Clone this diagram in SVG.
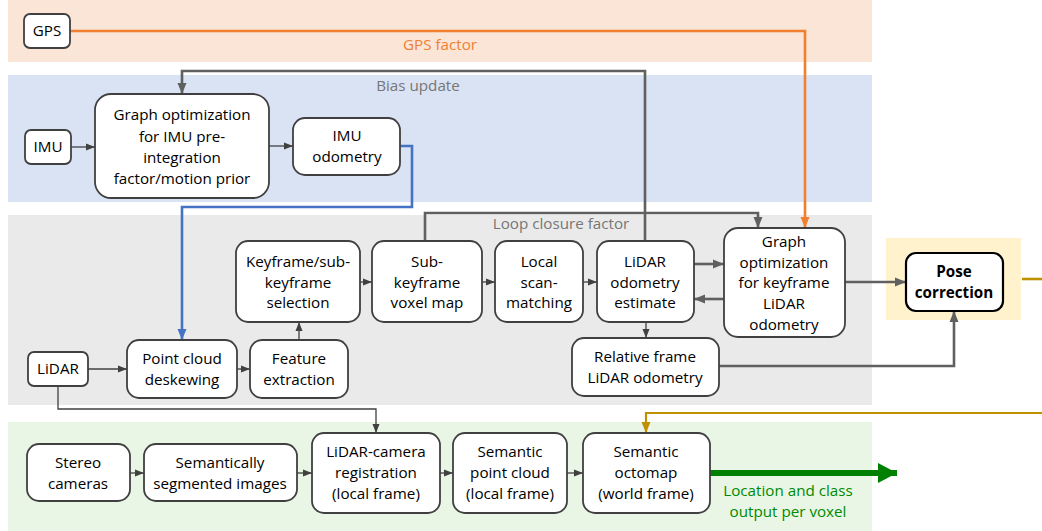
<svg xmlns="http://www.w3.org/2000/svg" width="1042" height="531" viewBox="0 0 1042 531">
<style>
.node rect{fill:#fff;stroke:#404040;stroke-width:1.8}
.node text{font-family:"Open Sans","Noto Sans",sans-serif;font-size:15.2px;fill:#000;text-anchor:middle}
.lbl{font-family:"Open Sans","Noto Sans",sans-serif;font-size:15.2px;text-anchor:middle}
.c{fill:none;stroke-linejoin:miter}
.thin{stroke:#404040;stroke-width:1.3}
.thick{stroke:#606060;stroke-width:2.6}
</style>
<defs>
<marker id="aT" markerUnits="userSpaceOnUse" markerWidth="10" markerHeight="10" viewBox="0 0 10 10" refX="9" refY="5" orient="auto"><path d="M0,1.5 L9,5 L0,8.5 Z" fill="#404040"/></marker>
<marker id="aK" markerUnits="userSpaceOnUse" markerWidth="12" markerHeight="12" viewBox="0 0 12 12" refX="11" refY="6" orient="auto"><path d="M0,1.5 L11,6 L0,10.5 Z" fill="#606060"/></marker>
<marker id="aB" markerUnits="userSpaceOnUse" markerWidth="12" markerHeight="12" viewBox="0 0 12 12" refX="11" refY="6" orient="auto"><path d="M0,1.5 L11,6 L0,10.5 Z" fill="#4472C4"/></marker>
<marker id="aO" markerUnits="userSpaceOnUse" markerWidth="12" markerHeight="12" viewBox="0 0 12 12" refX="11" refY="6" orient="auto"><path d="M0,1.5 L11,6 L0,10.5 Z" fill="#F08030"/></marker>
<marker id="aG" markerUnits="userSpaceOnUse" markerWidth="12" markerHeight="12" viewBox="0 0 12 12" refX="11" refY="6" orient="auto"><path d="M0,1.5 L11,6 L0,10.5 Z" fill="#BF9000"/></marker>
<marker id="aGr" markerUnits="userSpaceOnUse" markerWidth="22" markerHeight="22" viewBox="0 0 22 22" refX="19" refY="11" orient="auto"><path d="M0,1 L19,11 L0,21 Z" fill="#008000"/></marker>
</defs>

<g id="bands">
<rect x="8" y="0" width="864" height="62" fill="#FBE5D6"/>
<rect x="8" y="75" width="864" height="127" fill="#DAE3F3"/>
<rect x="8" y="215" width="864" height="190" fill="#EAEAEA"/>
<rect x="8" y="422" width="864" height="109" fill="#E9F6E5"/>
<rect x="886" y="238" width="135" height="82" fill="#FFF2CC"/>
</g>

<g id="labels">
<text class="lbl" x="440" y="50" fill="#F08030">GPS factor</text>
<text class="lbl" x="418" y="91" fill="#767676">Bias update</text>
<text class="lbl" x="561" y="229" fill="#767676">Loop closure factor</text>
<text class="lbl" x="788" y="496" fill="#008A00">Location and class</text>
<text class="lbl" x="788" y="517" fill="#008A00">output per voxel</text>
</g>

<g id="connectors">
<path class="c" d="M70,31 H805 V228" stroke="#F08030" stroke-width="2.6" marker-end="url(#aO)"/>
<path class="c thick" d="M645,242 V71 H182 V94" marker-end="url(#aK)"/>
<path class="c" d="M400,146 H412 V207 H182 V340" stroke="#4472C4" stroke-width="2.6" marker-end="url(#aB)"/>
<path class="c thick" d="M425,241 V213 H758 V228" marker-end="url(#aK)"/>
<path class="c thin" d="M71,147 H95" marker-end="url(#aT)"/>
<path class="c thin" d="M269,146 H293" marker-end="url(#aT)"/>
<path class="c thin" d="M88,369 H127" marker-end="url(#aT)"/>
<path class="c thin" d="M237,369 H250" marker-end="url(#aT)"/>
<path class="c thin" d="M299,340 V322" marker-end="url(#aT)"/>
<path class="c thin" d="M360,282 H372" marker-end="url(#aT)"/>
<path class="c thin" d="M482,282 H495" marker-end="url(#aT)"/>
<path class="c thin" d="M583,282 H597" marker-end="url(#aT)"/>
<path class="c thick" d="M694,264 H724" marker-end="url(#aK)"/>
<path class="c thick" d="M724,299 H694" marker-end="url(#aK)"/>
<path class="c thin" d="M646,322 V338" marker-end="url(#aT)"/>
<path class="c thick" d="M845,282 H906" marker-end="url(#aK)"/>
<path class="c thick" d="M719,366 H954 V311" marker-end="url(#aK)"/>
<path class="c" d="M1022,279 H1042" stroke="#BF9000" stroke-width="2.6"/>
<path class="c" d="M1042,413 H646 V433" stroke="#BF9000" stroke-width="2.2" marker-end="url(#aG)"/>
<path class="c thin" d="M58,386 V409 H376 V433" marker-end="url(#aT)"/>
<path class="c thin" d="M130,473 H144" marker-end="url(#aT)"/>
<path class="c thin" d="M297,473 H312" marker-end="url(#aT)"/>
<path class="c thin" d="M440,473 H453" marker-end="url(#aT)"/>
<path class="c thin" d="M567,473 H583" marker-end="url(#aT)"/>
<path class="c" d="M710,473 H897" stroke="#008000" stroke-width="6" marker-end="url(#aGr)"/>
</g>

<g id="gps" class="node"><rect x="24" y="14" width="46" height="34" rx="6"/><text x="47" y="36">GPS</text></g>
<g id="imu" class="node"><rect x="25" y="130" width="46" height="34" rx="6"/><text x="48" y="152">IMU</text></g>
<g id="graph-imu" class="node"><rect x="95" y="94" width="174" height="104" rx="16"/>
<text x="182" y="120">Graph optimization</text><text x="182" y="142">for IMU pre-</text><text x="182" y="163">integration</text><text x="182" y="184">factor/motion prior</text></g>
<g id="imu-odom" class="node"><rect x="293" y="118" width="107" height="57" rx="12"/>
<text x="347" y="141">IMU</text><text x="347" y="162">odometry</text></g>

<g id="keyframe" class="node"><rect x="236" y="241" width="124" height="81" rx="12"/>
<text x="298" y="267">Keyframe/sub-</text><text x="298" y="288">keyframe</text><text x="298" y="308">selection</text></g>
<g id="subkey" class="node"><rect x="372" y="241" width="110" height="81" rx="12"/>
<text x="427" y="267">Sub-</text><text x="427" y="288">keyframe</text><text x="427" y="308">voxel map</text></g>
<g id="local" class="node"><rect x="495" y="241" width="88" height="81" rx="12"/>
<text x="539" y="267">Local</text><text x="539" y="288">scan-</text><text x="539" y="308">matching</text></g>
<g id="lidar-odom" class="node"><rect x="597" y="241" width="97" height="81" rx="12"/>
<text x="645" y="267">LiDAR</text><text x="645" y="288">odometry</text><text x="645" y="308">estimate</text></g>
<g id="graph-key" class="node"><rect x="724" y="228" width="121" height="109" rx="14"/>
<text x="784" y="247">Graph</text><text x="784" y="268">optimization</text><text x="784" y="288">for keyframe</text><text x="784" y="309">LiDAR</text><text x="784" y="330">odometry</text></g>
<g id="pose" class="node"><rect x="906" y="253" width="97" height="58" rx="10" style="stroke:#000;stroke-width:2.2"/>
<text x="954" y="277" font-weight="bold">Pose</text><text x="954" y="298" font-weight="bold">correction</text></g>
<g id="relative" class="node"><rect x="572" y="338" width="147" height="58" rx="12"/>
<text x="645" y="362">Relative frame</text><text x="645" y="383">LiDAR odometry</text></g>
<g id="lidar" class="node"><rect x="28" y="352" width="60" height="34" rx="6"/><text x="58" y="374">LiDAR</text></g>
<g id="deskew" class="node"><rect x="127" y="340" width="110" height="58" rx="12"/>
<text x="182" y="364">Point cloud</text><text x="182" y="385">deskewing</text></g>
<g id="feature" class="node"><rect x="250" y="340" width="98" height="58" rx="12"/>
<text x="299" y="364">Feature</text><text x="299" y="385">extraction</text></g>

<g id="stereo" class="node"><rect x="27" y="444" width="103" height="57" rx="12"/>
<text x="78" y="468">Stereo</text><text x="78" y="489">cameras</text></g>
<g id="segmented" class="node"><rect x="144" y="444" width="153" height="57" rx="12"/>
<text x="220" y="468">Semantically</text><text x="220" y="489">segmented images</text></g>
<g id="registration" class="node"><rect x="312" y="433" width="128" height="80" rx="12"/>
<text x="376" y="457">LiDAR-camera</text><text x="376" y="478">registration</text><text x="376" y="499">(local frame)</text></g>
<g id="sem-pc" class="node"><rect x="453" y="433" width="114" height="80" rx="12"/>
<text x="510" y="457">Semantic</text><text x="510" y="478">point cloud</text><text x="510" y="499">(local frame)</text></g>
<g id="octomap" class="node"><rect x="583" y="433" width="127" height="80" rx="12"/>
<text x="646" y="457">Semantic</text><text x="646" y="478">octomap</text><text x="646" y="499">(world frame)</text></g>
</svg>
